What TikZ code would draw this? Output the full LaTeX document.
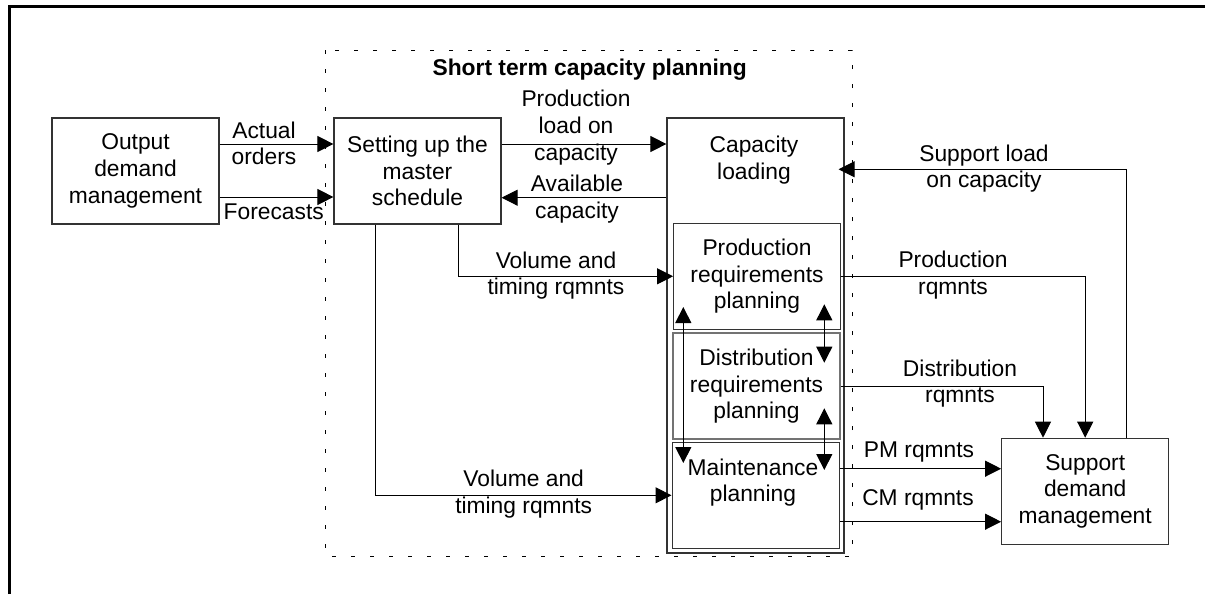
\documentclass[tikz,border=0pt]{standalone}
\usepackage{fontspec}
\setmainfont{Liberation Sans}
\usetikzlibrary{arrows.meta}
\begin{document}
\begin{tikzpicture}[x=0.5pt,y=-0.5pt,
  font=\fontsize{11.4}{13.3}\selectfont,
  box/.style={draw=black!80,line width=0.6pt,inner sep=0pt,minimum width=83.5pt,minimum height=53pt,align=center},
  lbl/.style={inner sep=0pt,align=center},
  arr/.style={line width=0.5pt,-{Triangle[length=8pt,width=8pt]}},
  darr/.style={line width=0.5pt,{Triangle[length=8pt,width=8pt]}-{Triangle[length=8pt,width=8pt]}},
  conn/.style={line width=0.5pt}
]
\useasboundingbox (0,0) rectangle (1209,594);
% outer frame
\draw[line width=1.6pt,line join=miter] (9.7,594) -- (9.7,6.7) -- (1205,6.7);
% dashed group
\draw[line width=0.5pt,dash pattern=on 2pt off 7.5pt] (325,50) rectangle (852,556);
\node[lbl,font=\fontsize{11.4}{13.3}\selectfont\bfseries] (title) at (589.7,70) {Short term capacity planning};

% boxes
\node[box] (out) at (135.5,171) {Output\\demand\\management};
\node[box] (ms) at (417.5,171) {Setting up the\\master\\schedule};
\node[box,minimum width=88.5pt,minimum height=217.5pt] (cap) at (755.5,335.5) {};
\node[lbl] (captxt) at (754,160) {Capacity\\loading};
\node[box,minimum width=83.3pt] (prod) at (757,276.3) {Production\\requirements\\planning};
\node[box,draw=black!55,line width=1pt,minimum width=83.8pt] (dist) at (756.5,386.3) {Distribution\\requirements\\planning};
\node[box,minimum width=83.6pt] (maint) at (755.7,495.3) {};
\node[lbl] (mtxt) at (753,482.7) {Maintenance\\planning};
\node[box] (supp) at (1085.2,491.3) {Support\\demand\\management};

% connectors
\draw[arr] (out.east |- 0,144) -- (ms.west |- 0,144);
\draw[arr] (out.east |- 0,197) -- (ms.west |- 0,197);
\draw[arr] (ms.east |- 0,144) -- (cap.west |- 0,144);
\draw[arr] (cap.west |- 0,197.7) -- (ms.east |- 0,197.7);
\draw[arr] (ms.south -| 458.7,0) |- (prod.west);
\draw[arr] (ms.south -| 375,0) |- (maint.west);
\draw[arr] (prod.east) -| (supp.north);
\draw[arr] (dist.east) -| (supp.north -| 1043,0);
\draw[arr] (maint.east |- 0,468.7) -- (supp.west |- 0,468.7);
\draw[arr] (maint.east |- 0,521.7) -- (supp.west |- 0,521.7);
\draw[arr,shorten >=-3pt] (supp.north -| 1126.7,0) |- (cap.east |- 0,169.3);

% double arrows between planning boxes
\coordinate (l1) at (683.3,307);
\coordinate (l2) at (683.3,463);
\coordinate (r1) at (824.3,304.3);
\coordinate (r2) at (824.3,362.7);
\coordinate (r3) at (824.3,408.3);
\coordinate (r4) at (824.3,470);
\draw[darr] (l1) -- (l2);
\draw[darr] (r1) -- (r2);
\draw[darr] (r3) -- (r4);

% labels
\node[lbl] (la) at (264,143.5) {Actual\\orders};
\node[lbl] (lf) at (273.7,212) {Forecasts};
\node[lbl] (lp) at (576,127.7) {Production\\load on\\capacity};
\node[lbl] (lav) at (577,199) {Available\\capacity};
\node[lbl] (lv1) at (556,275.5) {Volume and\\timing rqmnts};
\node[lbl] (lv2) at (523.7,494) {Volume and\\timing rqmnts};
\node[lbl] (ls) at (984,168.5) {Support load\\on capacity};
\node[lbl] (lpr) at (953,275) {Production\\rqmnts};
\node[lbl] (ldr) at (960,383.5) {Distribution\\rqmnts};
\node[lbl] (lpm) at (919,451.7) {PM rqmnts};
\node[lbl] (lcm) at (918,500) {CM rqmnts};
\end{tikzpicture}
\end{document}
